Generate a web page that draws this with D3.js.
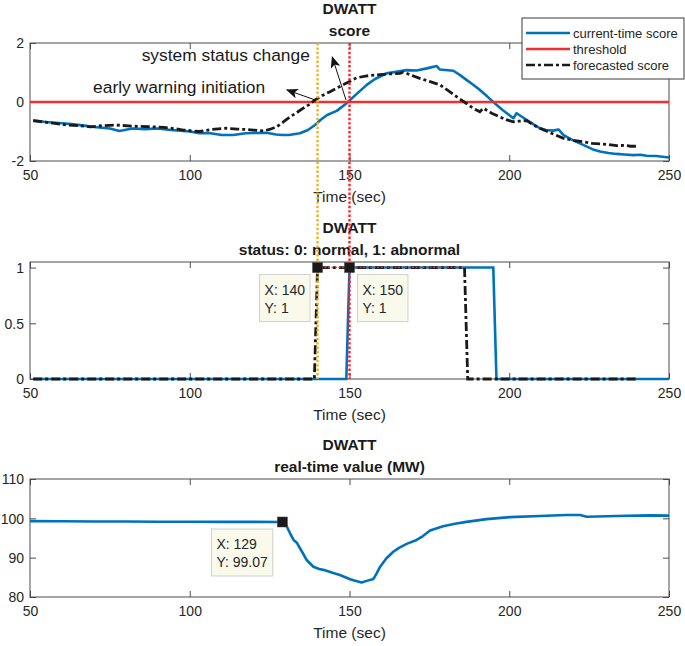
<!DOCTYPE html>
<html>
<head>
<meta charset="utf-8">
<script src="https://cdn.jsdelivr.net/npm/d3@7"></script>
<style>
  html, body { margin: 0; padding: 0; background: #fff; }
  svg { display: block; font-family: "Liberation Sans", Arial, Helvetica, sans-serif; }
</style>
</head>
<body>
<svg id="chart" width="685" height="646"></svg>
<script>
// ---------------- DATA ----------------
const xTicks = [50, 100, 150, 200, 250];
const scoreTicks = [-2, 0, 2];
const statusTicks = [0, 0.5, 1];
const valueTicks = [80, 90, 100, 110];
const thresholdValue = 0;

// current-time score [time, score]
const currentScore = [
  [51,-0.63],[55,-0.68],[60,-0.72],[63,-0.75],[67,-0.8],[70,-0.85],[75,-0.9],[78,-0.98],
  [82,-0.9],[86,-0.92],[90,-0.9],[94,-0.95],[98,-0.98],[100,-1.0],[103,-1.06],[106,-1.05],
  [110,-1.12],[113.6,-1.12],[117.5,-1.06],[120,-1.05],[124,-1.04],[127,-1.1],[129,-1.12],
  [131,-1.12],[134.5,-1.06],[137,-0.95],[139.2,-0.78],[141,-0.6],[143,-0.44],[146,-0.3],
  [149,-0.05],[152,0.25],[155.4,0.58],[158,0.78],[161.6,0.97],[165,1.03],[167.9,1.08],
  [171,1.07],[174.2,1.14],[177.3,1.22],[178.3,1.1],[182.5,1.06],[184.5,0.92],[186.6,0.75],
  [188.5,0.6],[190.8,0.41],[193,0.2],[195,0.0],[198,-0.28],[201.3,-0.55],[202.3,-0.38],
  [205.5,-0.61],[207.5,-0.75],[209.6,-0.89],[211.5,-0.95],[213.8,-0.97],[215.4,-0.93],
  [217,-1.12],[220,-1.3],[223.3,-1.46],[226,-1.6],[228.4,-1.68],[231,-1.73],[233.6,-1.76],
  [236,-1.78],[238.8,-1.8],[241,-1.79],[243,-1.82],[246,-1.83],[250,-1.88]
];

// forecasted score [time, score]
const forecastScore = [
  [51,-0.63],[56,-0.7],[61.5,-0.78],[65,-0.8],[68.8,-0.84],[73,-0.8],[77,-0.78],[82,-0.82],
  [87.6,-0.84],[92,-0.86],[95,-0.9],[98,-0.95],[103,-1.0],[107,-0.93],[111.5,-0.89],
  [115,-0.92],[117.7,-0.93],[120,-0.95],[123,-0.98],[125,-0.93],[127.2,-0.84],[129,-0.7],
  [131.4,-0.5],[133.5,-0.36],[135.5,-0.21],[137.5,-0.08],[139.2,0.07],[141.5,0.22],
  [143.9,0.35],[146.5,0.5],[149.4,0.66],[152.2,0.82],[155,0.88],[158.5,0.92],[162,0.95],
  [165.8,0.97],[166.8,1.02],[169,0.92],[172,0.8],[175,0.7],[178.3,0.58],[181,0.38],
  [183.5,0.18],[186.6,-0.05],[188.5,-0.2],[190.8,-0.33],[191.9,-0.21],[194.5,-0.38],
  [197,-0.5],[199,-0.6],[201.3,-0.67],[203,-0.65],[205.5,-0.63],[207.5,-0.78],[209.6,-0.89],
  [213,-1.05],[217,-1.23],[220,-1.3],[223.3,-1.35],[226,-1.4],[228.4,-1.42],[231,-1.44],
  [233.6,-1.48],[236,-1.47],[238,-1.5],[240,-1.5]
];

// status (0: normal, 1: abnormal)
const statusCurrent = [[51,0],[149,0],[150,1],[195,1],[196,0],[250,0]];
const statusForecast = [[51,0],[139,0],[140,1],[186,1],[187,0],[240,0]];
const statusOverlap = [[140,1],[186,1]];

// real-time DWATT value (MW)
const realValue = [
  [50,99.3],[60,99.25],[70,99.2],[80,99.2],[90,99.15],[100,99.15],[110,99.1],[120,99.1],
  [129,99.07],[130.3,98.0],[131.4,96.2],[132.5,94.5],[133.5,93.8],[134.5,92.4],[135.5,91.0],
  [136.6,89.4],[138.7,87.7],[140.5,87.1],[141.8,86.9],[143.5,86.5],[144.9,86.1],[147,85.6],
  [148.5,85.1],[150.2,84.5],[151.5,84.2],[153.8,83.7],[155.4,84.1],[157.5,84.6],[158.5,86.0],
  [159.6,87.7],[161.5,89.8],[163.7,91.5],[165.5,92.5],[167.9,93.5],[171,94.5],[173,95.5],
  [175.2,96.9],[179.3,98.0],[183,98.6],[186.6,99.1],[192.9,99.8],[200.2,100.3],[209.6,100.6],
  [217.9,100.85],[222.2,100.85],[224.2,100.4],[233.6,100.6],[244,100.75],[250,100.7]
];

// event times (early warning, status change)
const eventTimes = [140, 150];
const eventColors = ["#EDB120", "#FF2020"];

// data tips
const dataTips = [
  {panel: 1, x: 140, y: 1, lines: ["X: 140", "Y: 1"], dx: -58, dy: 7},
  {panel: 1, x: 150, y: 1, lines: ["X: 150", "Y: 1"], dx: 8, dy: 7},
  {panel: 2, x: 129, y: 99.07, lines: ["X: 129", "Y: 99.07"], dx: -71, dy: 7}
];

// annotations in top panel data coords
const annotations = [
  {text: "system status change", tx: 137.6, ty: 1.59, from: [148.9, 0.07], to: [144.6, 1.53]},
  {text: "early warning initiation", tx: 123.6, ty: 0.51, from: [139.2, 0.07], to: [130.4, 0.41]}
];

const legendItems = [
  {label: "current-time score", color: "#0072BD", dash: null},
  {label: "threshold", color: "#F03030", dash: null},
  {label: "forecasted score", color: "#1a1a1a", dash: "9,3,3,3"}
];

// ---------------- LAYOUT ----------------
const svg = d3.select("#chart");
const L = 30, R = 669;
const x = d3.scaleLinear().domain([50, 250]).range([L, R]);

const panels = [
  {top: 43, bottom: 161, domain: [-2, 2], ticks: scoreTicks, t1: "DWATT", t2: "score", fmt: d => d},
  {top: 262, bottom: 379, domain: [0, 1.05], ticks: statusTicks, t1: "DWATT", t2: "status: 0: normal, 1: abnormal", fmt: d => d},
  {top: 479, bottom: 597, domain: [80, 110], ticks: valueTicks, t1: "DWATT", t2: "real-time value (MW)", fmt: d => d}
];
panels.forEach(p => { p.y = d3.scaleLinear().domain(p.domain).range([p.bottom, p.top]); });

const BLUE = "#0072BD", RED = "#F03030", BLACK = "#1a1a1a";
const axisColor = "#4d4d4d", textColor = "#262626";

const defs = svg.append("defs");
defs.append("marker").attr("id", "arrowhead")
  .attr("viewBox", "0 0 12 10").attr("refX", 11).attr("refY", 5)
  .attr("markerWidth", 12).attr("markerHeight", 10).attr("markerUnits", "userSpaceOnUse")
  .attr("orient", "auto")
  .append("path").attr("d", "M0,0 L12,5 L0,10 L3,5 Z").attr("fill", "#111");

panels.forEach((p, i) => {
  p.clip = "clip" + i;
  defs.append("clipPath").attr("id", p.clip).append("rect")
    .attr("x", L).attr("y", p.top - 2).attr("width", R - L).attr("height", p.bottom - p.top + 4);
  const g = svg.append("g");
  p.g = g;
  g.append("rect").attr("x", L).attr("y", p.top).attr("width", R - L).attr("height", p.bottom - p.top)
    .attr("fill", "#fff");
  g.append("text").attr("x", (L + R) / 2).attr("y", p.top - 29).attr("text-anchor", "middle")
    .attr("font-size", 15.5).attr("font-weight", "bold").attr("fill", "#1a1a1a").text(p.t1);
  g.append("text").attr("x", (L + R) / 2).attr("y", p.top - 7).attr("text-anchor", "middle")
    .attr("font-size", 15.5).attr("font-weight", "bold").attr("fill", "#1a1a1a").text(p.t2);
  const xb = g.append("g").attr("transform", `translate(0,${p.bottom})`)
    .call(d3.axisBottom(x).tickValues(xTicks).tickSize(-6).tickPadding(9).tickSizeOuter(0));
  const xt = g.append("g").attr("transform", `translate(0,${p.top})`)
    .call(d3.axisTop(x).tickValues(xTicks).tickSize(-6).tickSizeOuter(0));
  xt.selectAll("text").remove();
  const yl = g.append("g").attr("transform", `translate(${L},0)`)
    .call(d3.axisLeft(p.y).tickValues(p.ticks).tickFormat(p.fmt).tickSize(-6).tickPadding(6).tickSizeOuter(0));
  const yr = g.append("g").attr("transform", `translate(${R},0)`)
    .call(d3.axisRight(p.y).tickValues(p.ticks).tickSize(-6).tickSizeOuter(0));
  yr.selectAll("text").remove();
  [xb, xt, yl, yr].forEach(a => {
    a.select(".domain").remove();
    a.selectAll(".tick line").attr("stroke", axisColor).attr("stroke-width", 1);
    a.selectAll("text").attr("font-size", 14).attr("fill", textColor)
      .attr("font-family", "Liberation Sans, Arial, sans-serif");
  });
  yl.selectAll("text").attr("dy", "0.35em");
  g.append("rect").attr("x", L).attr("y", p.top).attr("width", R - L).attr("height", p.bottom - p.top)
    .attr("fill", "none").attr("stroke", axisColor).attr("stroke-width", 1);
  g.append("text").attr("x", (L + R) / 2).attr("y", p.bottom + 41).attr("text-anchor", "middle")
    .attr("font-size", 15.5).attr("fill", textColor).text("Time (sec)");
  p.plot = g.append("g").attr("clip-path", `url(#${p.clip})`);
});

function lineFor(p) {
  return d3.line().x(d => x(d[0])).y(d => p.y(d[1]));
}

// ---- Panel 1: scores ----
const p1 = panels[0];
p1.plot.append("path").datum(currentScore).attr("d", lineFor(p1))
  .attr("fill", "none").attr("stroke", BLUE).attr("stroke-width", 2.6).attr("stroke-linejoin", "round");
p1.plot.append("line").attr("x1", x(50)).attr("x2", x(250))
  .attr("y1", p1.y(thresholdValue)).attr("y2", p1.y(thresholdValue))
  .attr("stroke", RED).attr("stroke-width", 2.6);
p1.plot.append("path").datum(forecastScore).attr("d", lineFor(p1))
  .attr("fill", "none").attr("stroke", BLACK).attr("stroke-width", 2.8)
  .attr("stroke-dasharray", "9,3,3,3");

// ---- Panel 2: status ----
const p2 = panels[1];
p2.plot.append("path").datum(statusCurrent).attr("d", lineFor(p2))
  .attr("fill", "none").attr("stroke", BLUE).attr("stroke-width", 2.6);
p2.plot.append("path").datum(statusForecast).attr("d", lineFor(p2))
  .attr("fill", "none").attr("stroke", BLACK).attr("stroke-width", 2.8)
  .attr("stroke-dasharray", "9,3,3,3");
p2.plot.append("path").datum(statusOverlap).attr("d", lineFor(p2))
  .attr("fill", "none").attr("stroke", RED).attr("stroke-width", 1.6)
  .attr("stroke-dasharray", "2,1.5");

// ---- Panel 3: real-time value ----
const p3 = panels[2];
p3.plot.append("path").datum(realValue).attr("d", lineFor(p3))
  .attr("fill", "none").attr("stroke", BLUE).attr("stroke-width", 2.6).attr("stroke-linejoin", "round");

// ---- Event vertical dotted lines spanning top & middle panels ----
eventTimes.forEach((t, i) => {
  svg.append("line").attr("x1", x(t)).attr("x2", x(t))
    .attr("y1", p1.top).attr("y2", p2.bottom)
    .attr("stroke", eventColors[i]).attr("stroke-width", 2.4)
    .attr("stroke-dasharray", "2.4,2");
});

// ---- Annotations ----
annotations.forEach(a => {
  svg.append("line")
    .attr("x1", x(a.from[0])).attr("y1", p1.y(a.from[1]))
    .attr("x2", x(a.to[0])).attr("y2", p1.y(a.to[1]))
    .attr("stroke", "#111").attr("stroke-width", 1)
    .attr("marker-end", "url(#arrowhead)");
  svg.append("text").attr("x", x(a.tx)).attr("y", p1.y(a.ty)).attr("dy", "0.35em")
    .attr("text-anchor", "end").attr("font-size", 17.4).attr("fill", "#1a1a1a").text(a.text);
});

// ---- Data tips ----
dataTips.forEach(d => {
  const p = panels[d.panel];
  const px = x(d.x), py = p.y(d.y);
  const lh = 18;
  const g = svg.append("g");
  const tmp = g.append("g");
  const texts = d.lines.map(l => tmp.append("text").attr("font-size", 14).text(l));
  const w = d3.max(texts, t => t.node().getComputedTextLength()) + 10;
  tmp.remove();
  const bx = px + d.dx, by = py + d.dy;
  g.append("rect").attr("x", bx).attr("y", by).attr("width", w).attr("height", 47)
    .attr("fill", "#f9f9ec").attr("stroke", "#d0d0c8").attr("stroke-width", 1);
  d.lines.forEach((l, k) => {
    g.append("text").attr("x", bx + 5).attr("y", by + 20 + k * lh)
      .attr("font-size", 14).attr("fill", textColor).text(l);
  });
  svg.append("rect").attr("x", px - 5).attr("y", py - 5).attr("width", 10).attr("height", 10)
    .attr("fill", "#1a1a1a").attr("stroke", "#444").attr("stroke-width", 0.5);
});

// ---- Legend ----
const lg = svg.append("g").attr("transform", "translate(522,18)");
lg.append("rect").attr("x", 0).attr("y", 0).attr("width", 162).attr("height", 61)
  .attr("fill", "#fff").attr("stroke", "#3a3a3a").attr("stroke-width", 1);
legendItems.forEach((it, i) => {
  const yy = 15 + i * 16;
  lg.append("line").attr("x1", 4).attr("x2", 48).attr("y1", yy).attr("y2", yy)
    .attr("stroke", it.color).attr("stroke-width", 2.6)
    .attr("stroke-dasharray", it.dash);
  lg.append("text").attr("x", 51).attr("y", yy).attr("dy", "0.35em")
    .attr("font-size", 13).attr("fill", textColor).text(it.label);
});
</script>
</body>
</html>
